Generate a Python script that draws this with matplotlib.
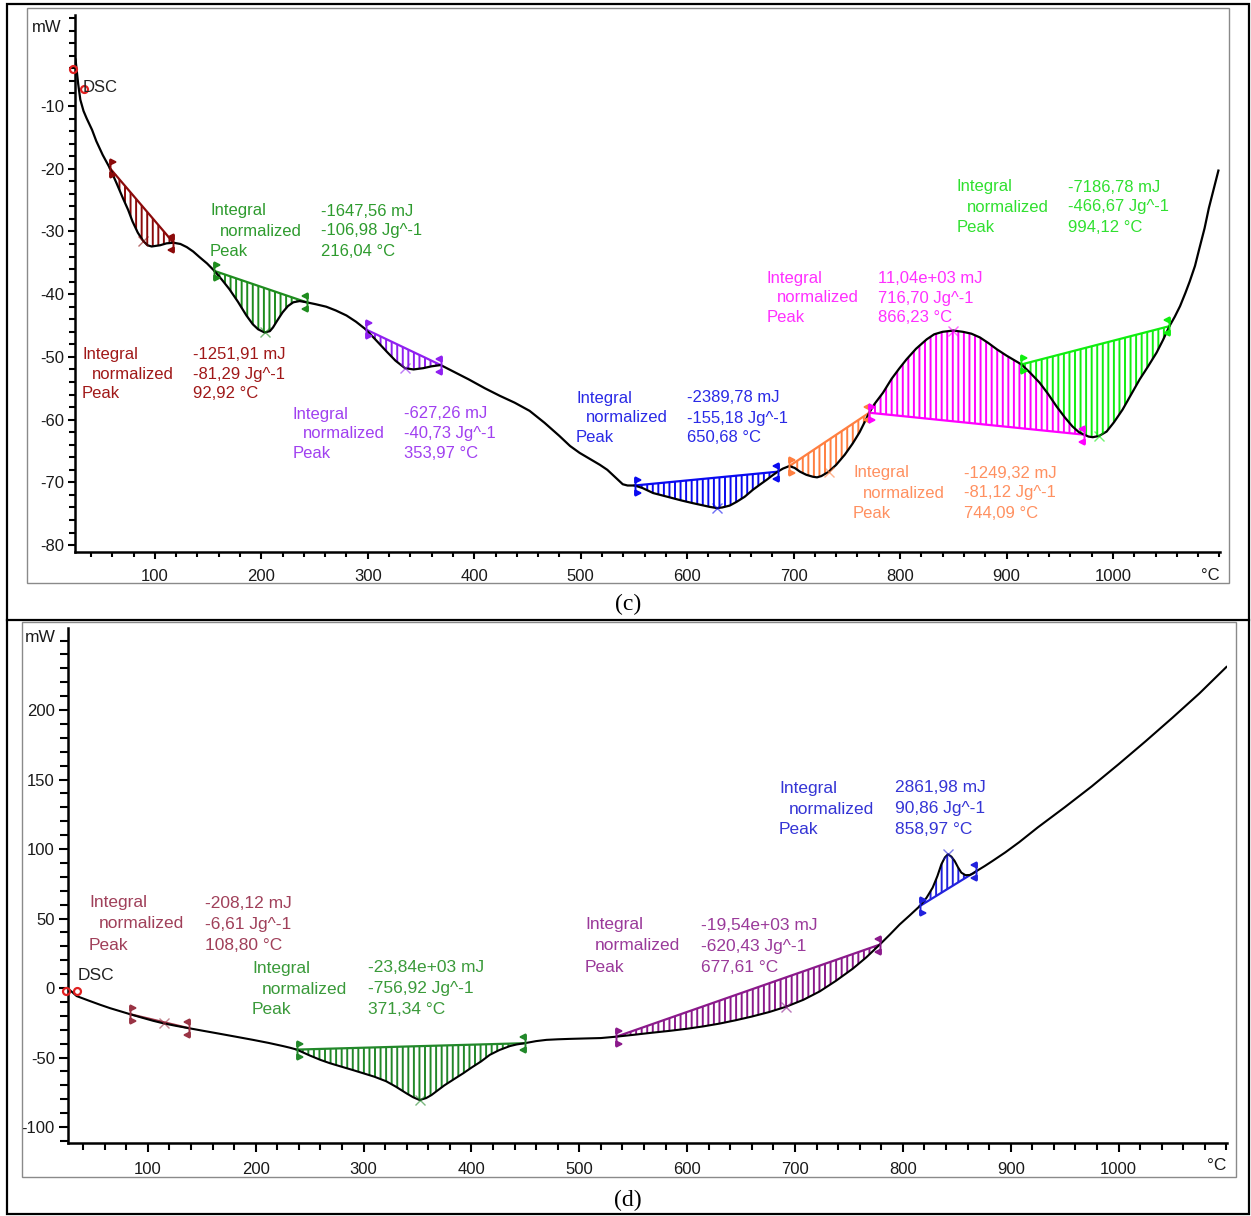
import numpy as np
import matplotlib
matplotlib.use("Agg")
import matplotlib.pyplot as plt
from matplotlib.path import Path
from matplotlib.patches import Rectangle
from matplotlib.lines import Line2D
from matplotlib.ticker import FixedLocator, MultipleLocator

W, H = 1251, 1216
plt.rcParams["font.family"] = ["Liberation Sans", "DejaVu Sans"]
plt.rcParams["hatch.linewidth"] = 1.4
plt.rcParams["axes.unicode_minus"] = False

# ---------------- DSC trace, sample (c) ----------------
temp_c = [25.5, 28, 30, 33, 36, 41, 45, 51, 57.7, 64, 70, 75, 79, 84, 89, 93, 97, 101,
          105, 111, 117.5, 124, 130, 136, 142, 149, 156, 163, 170, 178, 186, 192, 197,
          203, 208, 211, 215, 220, 225, 230, 236, 242.6, 251, 261, 270, 280, 289, 298,
          307, 318, 326, 335, 343, 352, 360, 368.5, 380, 395, 410, 424, 438, 452, 466,
          480, 490, 499, 509, 518, 525, 530, 535, 539.5, 544, 550.7, 558, 568, 577, 586,
          595, 605, 613, 621, 628, 633, 640, 646.5, 654, 661.6, 668, 674.6, 680, 685,
          690, 696, 701, 706, 712, 718, 722, 726, 733, 740, 748, 755.5, 762, 767, 771,
          776, 784, 792, 799, 806, 815, 825, 832, 840, 850, 859, 867, 875, 883, 891, 900,
          907, 914, 922, 931, 939, 947, 955, 962, 968, 973, 977, 981, 987, 994, 1001,
          1009, 1017, 1025, 1033, 1041, 1047, 1053, 1058, 1063, 1068, 1072, 1077, 1081,
          1086, 1090, 1095, 1099]
dsc_c = [-2.6, -6.5, -9.0, -10.8, -12.0, -13.8, -15.6, -17.8, -19.9, -22.3, -24.7, -26.6,
         -28.4, -30.2, -31.5, -32.2, -32.4, -32.3, -32.2, -31.9, -31.8, -32.0, -32.5,
         -33.2, -34.1, -35.1, -36.3, -37.7, -39.2, -41.2, -43.4, -44.8, -45.6, -46.1,
         -45.9, -45.3, -44.2, -42.9, -41.9, -41.3, -41.1, -41.3, -41.6, -42.0, -42.6,
         -43.4, -44.4, -45.6, -47.2, -49.2, -50.6, -51.8, -52.0, -51.8, -51.5, -51.3,
         -52.3, -53.6, -55.0, -56.2, -57.3, -58.6, -60.5, -62.6, -64.2, -65.3, -66.3,
         -67.2, -68.0, -68.8, -69.6, -70.3, -70.5, -70.5, -70.9, -71.7, -72.1, -72.5,
         -72.9, -73.3, -73.6, -73.9, -74.1, -74.0, -73.7, -73.1, -72.3, -71.2, -70.4,
         -69.6, -68.9, -68.3, -67.8, -67.4, -67.7, -68.3, -68.8, -69.1, -69.2, -69.0,
         -68.3, -67.2, -65.6, -63.8, -62.0, -60.3, -58.9, -57.5, -55.7, -53.5, -51.9,
         -50.4, -48.7, -47.2, -46.4, -46.0, -45.8, -46.0, -46.3, -46.9, -47.8, -48.8,
         -49.8, -50.5, -51.2, -52.5, -54.1, -55.9, -57.9, -59.7, -61.1, -62.0, -62.4,
         -62.7, -62.8, -62.6, -61.9, -60.4, -58.4, -56.0, -53.6, -51.5, -49.3, -47.3,
         -45.1, -43.6, -41.9, -39.8, -38.0, -35.5, -32.8, -29.5, -26.3, -23.0, -20.3]

# integration limits (c), both ends lie on the trace
start_c = [57.7, 156, 298, 550.7, 696, 771, 914]
end_c = [117.5, 242.6, 368.5, 685, 771, 973, 1053]
integral_c = ["-1251,91 mJ", "-1647,56 mJ", "-627,26 mJ", "-2389,78 mJ",
              "-1249,32 mJ", "11,04e+03 mJ", "-7186,78 mJ"]
normalized_c = ["-81,29 Jg^-1", "-106,98 Jg^-1", "-40,73 Jg^-1", "-155,18 Jg^-1",
                "-81,12 Jg^-1", "716,70 Jg^-1", "-466,67 Jg^-1"]
peak_c = ["92,92 °C", "216,04 °C", "353,97 °C", "650,68 °C",
          "744,09 °C", "866,23 °C", "994,12 °C"]
mark_col_c = ["#8B0A0A", "#1E8C1E", "#9020F0", "#0A0AF0", "#FF7F40", "#FF00FF", "#10EE10"]
text_col_c = ["#A01818", "#2E9B2E", "#A040F0", "#2A2AE6", "#FF9060", "#FF30FF", "#30E030"]
text_pos_c = [(82, 354), (210, 211), (293, 414), (576, 398), (853, 473), (767, 278), (957, 187)]

# ---------------- DSC trace, sample (d) ----------------
temp_d = [26, 30, 34, 45, 55.6, 65, 74, 83.4, 94, 105, 115, 126, 138, 150, 163.7, 180,
          197.5, 212, 225.5, 232, 238, 250, 260, 268.8, 280, 290, 299.6, 310, 321, 330,
          339.8, 346, 352, 358, 363, 367.6, 375, 384, 392.5, 400, 409, 417, 426, 435.6,
          442, 449.5, 460, 469.6, 480, 491, 505, 520, 534.4, 550, 567, 584, 600, 615,
          630, 645, 659.6, 676, 692, 708, 723, 738, 753.7, 766, 778.5, 788, 797, 806,
          815.6, 822, 827.6, 832, 835.7, 839, 841.8, 845, 848, 851, 854.2, 858, 862,
          865, 868, 876, 883.5, 895, 908, 925, 950, 975, 1000, 1025, 1050, 1075, 1100]
dsc_d = [-0.5, -3.0, -5.8, -9.0, -12.0, -14.5, -16.6, -18.8, -21.2, -23.6, -25.5, -27.2,
         -28.9, -30.6, -32.5, -34.8, -37.3, -39.5, -41.8, -43.0, -44.3, -48.5, -51.7,
         -54.1, -56.7, -59.0, -61.3, -63.8, -67.1, -71.0, -75.8, -78.6, -80.6, -79.2,
         -77.0, -74.3, -70.0, -65.5, -61.3, -57.3, -52.8, -48.1, -44.6, -41.8, -40.6,
         -39.7, -38.2, -37.3, -36.9, -36.6, -36.3, -36.0, -35.0, -33.7, -32.2, -30.8,
         -29.3, -27.6, -25.6, -23.2, -20.6, -17.3, -13.4, -8.4, -2.4, 5.2, 14.0, 22.0,
         31.2, 38.5, 45.7, 52.0, 58.9, 65.0, 72.2, 80.5, 89.0, 94.0, 96.2, 94.5, 91.4,
         87.0, 83.0, 81.2, 81.3, 82.4, 84.0, 87.8, 91.6, 97.6, 105.0, 115.5, 130.0,
         145.0, 161.0, 177.5, 194.5, 212.0, 231.0]

start_d = [83.4, 238, 534.4, 815.6]
end_d = [138, 449.5, 778.5, 868]
integral_d = ["-208,12 mJ", "-23,84e+03 mJ", "-19,54e+03 mJ", "2861,98 mJ"]
normalized_d = ["-6,61 Jg^-1", "-756,92 Jg^-1", "-620,43 Jg^-1", "90,86 Jg^-1"]
peak_d = ["108,80 °C", "371,34 °C", "677,61 °C", "858,97 °C"]
mark_col_d = ["#993344", "#22882A", "#8B1A8B", "#2222DD"]
text_col_d = ["#A0405A", "#3A9A3A", "#9A3A9A", "#3535D5"]
text_pos_d = [(89, 903), (252, 968), (585, 925), (779, 788)]

x_ticks = [100, 200, 300, 400, 500, 600, 700, 800, 900, 1000]
y_ticks_c = [-80, -70, -60, -50, -40, -30, -20, -10]
y_ticks_d = [-100, -50, 0, 50, 100, 150, 200]


def fx(px):
    return px / W


def fy(py):
    return 1 - py / H


def bracket(sign):
    verts = [(0, -1), (0, 1),
             (0, 1), (0.55 * sign, 0.72), (0, 0.45), (0, 1),
             (0, -1), (0.55 * sign, -0.72), (0, -0.45), (0, -1)]
    codes = [Path.MOVETO, Path.LINETO,
             Path.MOVETO, Path.LINETO, Path.LINETO, Path.CLOSEPOLY,
             Path.MOVETO, Path.LINETO, Path.LINETO, Path.CLOSEPOLY]
    return Path(verts, codes)


OPEN_MARK = bracket(1)
CLOSE_MARK = bracket(-1)


def draw_regions(ax, temp, dsc, starts, ends, colors):
    t = np.asarray(temp, float)
    y = np.asarray(dsc, float)
    for t0, t1, col in zip(starts, ends, colors):
        i0 = int(np.argmin(np.abs(t - t0)))
        i1 = int(np.argmin(np.abs(t - t1)))
        xs = t[i0:i1 + 1]
        ys = y[i0:i1 + 1]
        base = y[i0] + (y[i1] - y[i0]) * (xs - t[i0]) / (t[i1] - t[i0])
        ax.fill_between(xs, ys, base, hatch="|||", facecolor="none",
                        edgecolor=col, linewidth=0, zorder=2)
        ax.plot([t[i0], t[i1]], [y[i0], y[i1]], color=col, lw=1.6, zorder=3)
        k = int(np.argmax(np.abs(ys - base)))
        ax.plot(xs[k], ys[k], marker="x", color=col, ms=7, mew=1.0,
                alpha=0.6, zorder=5)
        ax.plot(t[i0], y[i0], marker=OPEN_MARK, ms=13, color=col, mew=1.4,
                zorder=6, clip_on=False)
        ax.plot(t[i1], y[i1], marker=CLOSE_MARK, ms=13, color=col, mew=1.4,
                zorder=6, clip_on=False)


def draw_labels(fig, pos, integ, norm, peak, colors, size, dy, val_dx):
    for (px, py), a, b, c, col in zip(pos, integ, norm, peak, colors):
        fig.text(fx(px), fy(py), "Integral", color=col, fontsize=size, va="center")
        fig.text(fx(px + 10), fy(py + dy), "normalized", color=col, fontsize=size, va="center")
        fig.text(fx(px), fy(py + 2 * dy), "Peak", color=col, fontsize=size, va="center")
        fig.text(fx(px + val_dx), fy(py), a, color=col, fontsize=size, va="center")
        fig.text(fx(px + val_dx), fy(py + dy), b, color=col, fontsize=size, va="center")
        fig.text(fx(px + val_dx), fy(py + 2 * dy), c, color=col, fontsize=size, va="center")


def style_axes(ax, yticks, yminor, ylen, xlen):
    for s in ("top", "right"):
        ax.spines[s].set_visible(False)
    for s in ("left", "bottom"):
        ax.spines[s].set_linewidth(1.8)
        ax.spines[s].set_color("black")
    ax.set_facecolor("none")
    ax.xaxis.set_major_locator(FixedLocator(x_ticks))
    ax.xaxis.set_minor_locator(MultipleLocator(20))
    ax.yaxis.set_major_locator(FixedLocator(yticks))
    ax.yaxis.set_minor_locator(MultipleLocator(yminor))
    ax.tick_params(axis="x", which="major", direction="out", length=xlen[0], width=1.5,
                   pad=7, labelsize=12, labelcolor="#1a1a1a")
    ax.tick_params(axis="x", which="minor", direction="out", length=xlen[1], width=1.5)
    ax.tick_params(axis="y", which="major", direction="out", length=ylen[0], width=1.5,
                   pad=3, labelsize=12, labelcolor="#1a1a1a")
    ax.tick_params(axis="y", which="minor", direction="out", length=ylen[1], width=1.5)


fig = plt.figure(figsize=(W / 100, H / 100), dpi=100)
fig.patch.set_facecolor("white")

# outer box, separator and panel frames
fig.add_artist(Rectangle((fx(7), fy(1214)), fx(1249) - fx(7), fy(4) - fy(1214),
                         transform=fig.transFigure, fill=False, ec="black", lw=1.6))
fig.add_artist(Line2D([fx(7), fx(1249)], [fy(620), fy(620)],
                      transform=fig.transFigure, color="black", lw=1.6))
fig.add_artist(Rectangle((fx(27), fy(583)), fx(1229) - fx(27), fy(8) - fy(583),
                         transform=fig.transFigure, fill=False, ec="#8a8a8a", lw=1.0))
fig.add_artist(Rectangle((fx(22), fy(1177)), fx(1236) - fx(22), fy(622) - fy(1177),
                         transform=fig.transFigure, fill=False, ec="#8a8a8a", lw=1.0))

# ---------- panel (c) ----------
ax1 = fig.add_axes([fx(75), fy(552), fx(1220) - fx(75), fy(15) - fy(552)])
ax1.set_xlim(25, 1100.5)
ax1.set_ylim(-81.1, 4.5)
style_axes(ax1, y_ticks_c, 2, (5, 4.3), (5, 3.6))
draw_regions(ax1, temp_c, dsc_c, start_c, end_c, mark_col_c)
ax1.plot(temp_c, dsc_c, color="black", lw=1.6, zorder=4, solid_joinstyle="round")
ax1.plot(temp_c[0] - 2, dsc_c[0] - 1.5, marker="o", ms=5, mfc="none", mec="#E02020",
         mew=1.6, zorder=6, clip_on=False)
ax1.plot(temp_c[3], dsc_c[3] + 3.5, marker="o", ms=5, mfc="none", mec="#E02020",
         mew=1.6, zorder=6, clip_on=False)
draw_labels(fig, text_pos_c, integral_c, normalized_c, peak_c, text_col_c, 12, 20, 111)
fig.text(fx(83), fy(88), "DSC", fontsize=12, color="#222222", va="center")
fig.text(fx(47), fy(27), "mW", fontsize=12, color="#1a1a1a", va="center", ha="center")
fig.text(fx(1210), fy(575), "°C", fontsize=12, color="#1a1a1a", va="center", ha="center")
fig.text(fx(628), fy(604), "(c)", fontsize=17, family="Liberation Serif",
         va="center", ha="center")

# ---------- panel (d) ----------
ax2 = fig.add_axes([fx(68), fy(1143), fx(1227) - fx(68), fy(628) - fy(1143)])
ax2.set_xlim(26, 1100.5)
ax2.set_ylim(-111.5, 259)
style_axes(ax2, y_ticks_d, 10, (6.5, 6), (6.5, 5))
draw_regions(ax2, temp_d, dsc_d, start_d, end_d, mark_col_d)
ax2.plot(temp_d, dsc_d, color="black", lw=1.5, zorder=4, solid_joinstyle="round")
ax2.plot(temp_d[0] - 2, dsc_d[0] - 2, marker="o", ms=5, mfc="none", mec="#E02020",
         mew=1.6, zorder=6, clip_on=False)
ax2.plot(temp_d[2], dsc_d[0] - 2, marker="o", ms=5, mfc="none", mec="#E02020",
         mew=1.6, zorder=6, clip_on=False)
draw_labels(fig, text_pos_d, integral_d, normalized_d, peak_d, text_col_d, 12.5, 21, 116)
fig.text(fx(78), fy(976), "DSC", fontsize=12.5, color="#222222", va="center")
fig.text(fx(40), fy(638), "mW", fontsize=12.5, color="#1a1a1a", va="center", ha="center")
fig.text(fx(1217), fy(1166), "°C", fontsize=12.5, color="#1a1a1a", va="center", ha="center")
fig.text(fx(628), fy(1200), "(d)", fontsize=17, family="Liberation Serif",
         va="center", ha="center")

fig.savefig("out.png", dpi=100)
